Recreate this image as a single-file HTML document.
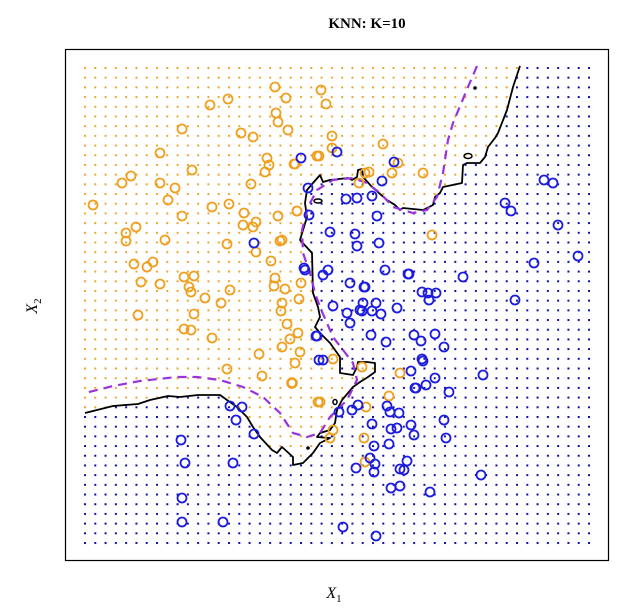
<!DOCTYPE html>
<html><head><meta charset="utf-8"><style>
html,body{margin:0;padding:0;background:#fff;width:640px;height:615px;overflow:hidden}
svg{display:block}
.o{fill:none;stroke:#F0A020;stroke-width:1.8}
.b{fill:none;stroke:#1c1ce0;stroke-width:1.8}
</style></head><body>
<svg width="640" height="615" viewBox="0 0 640 615" xmlns="http://www.w3.org/2000/svg">
<defs>
<pattern id="pb" patternUnits="userSpaceOnUse" x="84" y="67" width="10.286" height="9.694">
<rect width="10.286" height="9.694" fill="#fff"/><rect x="0" y="0" width="2" height="2" fill="#1010a0"/></pattern>
<pattern id="po" patternUnits="userSpaceOnUse" x="84" y="67" width="10.286" height="9.694">
<rect width="10.286" height="9.694" fill="#fff"/><rect x="0" y="0" width="2" height="2" fill="#E8A830"/></pattern>
<clipPath id="gc"><rect x="82" y="64" width="510" height="482"/></clipPath>
</defs>
<rect x="0" y="0" width="640" height="615" fill="#fff"/>
<g clip-path="url(#gc)">
<rect x="80" y="60" width="520" height="490" fill="url(#pb)"/>
<path fill="url(#po)" d="M78,58 L522,58 L520,66 L513,87 L507,110 L498,133 L495,138 L488,147 L485,157 L480,163 L467,163 L463,165 L462,183 L443,187 L440,193 L435,197 L433,205 L423,210 L403,208 L400,210 L395,205 L387,200 L372,187 L363,177 L362,169 L358,170 L357,177 L352,180 L348,178 L330,180 L323,182 L320,175 L313,183 L307,190 L305,203 L307,217 L300,240 L312,253 L313,293 L318,307 L320,317 L315,327 L320,333 L330,343 L340,357 L340,373 L353,375 L357,367 L358,362 L367,362 L375,363 L375,372 L368,377 L360,382 L353,387 L348,393 L342,400 L337,410 L335,423 L330,430 L320,433 L317,437 L330,438 L320,443 L313,453 L303,463 L293,465 L293,457 L282,447 L277,453 L272,450 L260,437 L253,427 L247,417 L237,407 L227,400 L220,395 L198,395 L180,397 L168,396 L150,400 L138,404 L113,406 L85,413 L78,414 Z"/>
</g>
<polyline fill="none" stroke="#000" stroke-width="1.8" stroke-linejoin="round" points="520,66 513,87 507,110 498,133 495,138 488,147 485,157 480,163 467,163 463,165 462,183 443,187 440,193 435,197 433,205 423,210 403,208 400,210 395,205 387,200 372,187 363,177 362,169 358,170 357,177 352,180 348,178 330,180 323,182 320,175 313,183 307,190 305,203 307,217 300,240 312,253 313,293 318,307 320,317 315,327 320,333 330,343 340,357 340,373 353,375 357,367 358,362 367,362 375,363 375,372 368,377 360,382 353,387 348,393 342,400 337,410 335,423 330,430 320,433 317,437 330,438 320,443 313,453 303,463 293,465 293,457 282,447 277,453 272,450 260,437 253,427 247,417 237,407 227,400 220,395 198,395 180,397 168,396 150,400 138,404 113,406 85,413"/>
<ellipse cx="318" cy="201" rx="4" ry="2" fill="none" stroke="#000" stroke-width="1.5"/>
<ellipse cx="468" cy="156" rx="4" ry="2.5" fill="none" stroke="#000" stroke-width="1.5"/>
<ellipse cx="335" cy="402" rx="2" ry="2.5" fill="none" stroke="#000" stroke-width="1.5"/>
<circle cx="475" cy="88" r="1.8" fill="#000"/><circle cx="308" cy="448" r="1.8" fill="#000"/>
<polyline fill="none" stroke="#9933DD" stroke-width="2.2" stroke-dasharray="9,6" points="477,66 468,87 453,123 448,140 443,173 437,197 427,210 413,213 393,207 380,193 367,183 353,178 333,180 317,190 308,207 302,230 303,253 310,273 315,293 320,307 333,337 343,350 353,363 357,380 347,400 330,417 320,433 307,437 293,433 280,413 263,397 243,387 220,380 197,377 177,377 140,381 113,386 85,393"/>
<g class="o">
<circle cx="275" cy="87" r="4.5"/><circle cx="286" cy="98" r="4.5"/><circle cx="210" cy="105" r="4.5"/><circle cx="228" cy="99" r="4.5"/><circle cx="276" cy="113" r="4.5"/><circle cx="278" cy="122" r="4.5"/><circle cx="288" cy="130" r="4.5"/><circle cx="182" cy="129" r="4.5"/><circle cx="241" cy="133" r="4.5"/><circle cx="253" cy="137" r="4.5"/><circle cx="160" cy="153" r="4.5"/><circle cx="267" cy="158" r="4.5"/><circle cx="269" cy="165" r="4.5"/><circle cx="265" cy="172" r="4.5"/><circle cx="295" cy="164" r="4.5"/><circle cx="192" cy="170" r="4.5"/><circle cx="131" cy="176" r="4.5"/><circle cx="122" cy="183" r="4.5"/><circle cx="160" cy="183" r="4.5"/><circle cx="175" cy="188" r="4.5"/><circle cx="251" cy="184" r="4.5"/><circle cx="168" cy="200" r="4.5"/><circle cx="93" cy="205" r="4.5"/><circle cx="212" cy="207" r="4.5"/><circle cx="229" cy="204" r="4.5"/><circle cx="244" cy="213" r="4.5"/><circle cx="278" cy="216" r="4.5"/><circle cx="297" cy="211" r="4.5"/><circle cx="182" cy="216" r="4.5"/><circle cx="243" cy="225" r="4.5"/><circle cx="253" cy="227" r="4.5"/><circle cx="256" cy="222" r="4.5"/><circle cx="136" cy="227" r="4.5"/><circle cx="126" cy="233" r="4.5"/><circle cx="126" cy="241" r="4.5"/><circle cx="165" cy="240" r="4.5"/><circle cx="227" cy="244" r="4.5"/><circle cx="280" cy="241" r="4.5"/><circle cx="256" cy="252" r="4.5"/><circle cx="271" cy="261" r="4.5"/><circle cx="134" cy="264" r="4.5"/><circle cx="153" cy="262" r="4.5"/><circle cx="147" cy="267" r="4.5"/><circle cx="317" cy="156" r="4.5"/>
<circle cx="141" cy="282" r="4.5"/><circle cx="160" cy="284" r="4.5"/><circle cx="184" cy="277" r="4.5"/><circle cx="194" cy="276" r="4.5"/><circle cx="189" cy="287" r="4.5"/><circle cx="191" cy="292" r="4.5"/><circle cx="205" cy="298" r="4.5"/><circle cx="230" cy="290" r="4.5"/><circle cx="221" cy="303" r="4.5"/><circle cx="138" cy="315" r="4.5"/><circle cx="194" cy="314" r="4.5"/><circle cx="184" cy="329" r="4.5"/><circle cx="191" cy="330" r="4.5"/><circle cx="212" cy="338" r="4.5"/><circle cx="275" cy="278" r="4.5"/><circle cx="274" cy="286" r="4.5"/><circle cx="285" cy="289" r="4.5"/><circle cx="301" cy="283" r="4.5"/><circle cx="299" cy="299" r="4.5"/><circle cx="282" cy="303" r="4.5"/><circle cx="281" cy="311" r="4.5"/><circle cx="287" cy="324" r="4.5"/><circle cx="298" cy="333" r="4.5"/><circle cx="290" cy="339" r="4.5"/><circle cx="282" cy="347" r="4.5"/><circle cx="300" cy="352" r="4.5"/><circle cx="295" cy="363" r="4.5"/><circle cx="259" cy="354" r="4.5"/><circle cx="227" cy="369" r="4.5"/><circle cx="262" cy="376" r="4.5"/><circle cx="292" cy="383" r="4.5" style="stroke-width:2.6"/><circle cx="318" cy="402" r="4.5"/>
<circle cx="332" cy="148" r="4.5"/><circle cx="319" cy="156" r="4.5"/><circle cx="294" cy="164" r="4.5"/><circle cx="398" cy="163" r="4.5"/><circle cx="392" cy="173" r="4.5"/><circle cx="423" cy="173" r="4.5"/><circle cx="369" cy="172" r="4.5"/><circle cx="365" cy="173" r="4.5"/><circle cx="359" cy="183" r="4.5"/><circle cx="383" cy="144" r="4.5"/><circle cx="297" cy="211" r="4.5"/><circle cx="432" cy="235" r="4.5"/><circle cx="282" cy="240" r="4.5"/><circle cx="321" cy="90" r="4.5"/><circle cx="326" cy="104" r="4.5"/><circle cx="332" cy="136" r="4.5"/>
<circle cx="333" cy="359" r="4.5"/><circle cx="320" cy="402" r="4.5"/><circle cx="362" cy="367" r="4.5"/><circle cx="400" cy="373" r="4.5"/><circle cx="389" cy="396" r="4.5"/><circle cx="366" cy="407" r="4.5"/><circle cx="333" cy="430" r="4.5"/><circle cx="330" cy="438" r="4.5"/><circle cx="364" cy="438" r="4.5"/><circle cx="365" cy="462" r="4.5"/>
</g>
<g class="b">
<circle cx="301" cy="158" r="4.5"/><circle cx="308" cy="188" r="4.5"/><circle cx="309" cy="215" r="4.5"/><circle cx="254" cy="243" r="4.5"/><circle cx="304" cy="268" r="4.5"/><circle cx="316" cy="336" r="4.5"/><circle cx="319" cy="360" r="4.5"/><circle cx="230" cy="406" r="4.5"/><circle cx="242" cy="407" r="4.5"/><circle cx="236" cy="420" r="4.5"/><circle cx="254" cy="434" r="4.5"/><circle cx="181" cy="440" r="4.5"/><circle cx="185" cy="463" r="4.5"/><circle cx="233" cy="463" r="4.5"/><circle cx="182" cy="498" r="4.5"/><circle cx="182" cy="522" r="4.5"/><circle cx="223" cy="522" r="4.5"/>
<circle cx="337" cy="152" r="4.5"/><circle cx="394" cy="162" r="4.5"/><circle cx="382" cy="181" r="4.5"/><circle cx="346" cy="199" r="4.5"/><circle cx="357" cy="198" r="4.5"/><circle cx="372" cy="196" r="4.5"/><circle cx="377" cy="216" r="4.5"/><circle cx="330" cy="232" r="4.5"/><circle cx="355" cy="234" r="4.5"/><circle cx="357" cy="246" r="4.5"/><circle cx="379" cy="243" r="4.5"/><circle cx="305" cy="270" r="4.5"/><circle cx="328" cy="270" r="4.5"/><circle cx="323" cy="275" r="4.5"/><circle cx="350" cy="283" r="4.5"/><circle cx="364" cy="287" r="4.5"/><circle cx="385" cy="270" r="4.5"/><circle cx="408" cy="274" r="4.5"/><circle cx="463" cy="277" r="4.5"/><circle cx="422" cy="292" r="4.5"/><circle cx="428" cy="293" r="4.5"/><circle cx="436" cy="293" r="4.5"/>
<circle cx="544" cy="180" r="4.5"/><circle cx="553" cy="183" r="4.5"/><circle cx="505" cy="203" r="4.5"/><circle cx="511" cy="211" r="4.5"/><circle cx="558" cy="225" r="4.5"/><circle cx="578" cy="256" r="4.5"/><circle cx="534" cy="263" r="4.5"/><circle cx="409" cy="274" r="4.5"/><circle cx="365" cy="287" r="4.5"/><circle cx="429" cy="300" r="4.5"/><circle cx="515" cy="300" r="4.5"/><circle cx="376" cy="303" r="4.5"/><circle cx="363" cy="303" r="4.5"/><circle cx="372" cy="311" r="4.5"/><circle cx="381" cy="314" r="4.5"/><circle cx="397" cy="308" r="4.5"/><circle cx="362" cy="311" r="4.5"/><circle cx="371" cy="335" r="4.5"/><circle cx="386" cy="342" r="4.5"/><circle cx="414" cy="335" r="4.5"/><circle cx="421" cy="341" r="4.5"/><circle cx="435" cy="334" r="4.5"/><circle cx="444" cy="347" r="4.5"/><circle cx="422" cy="359" r="4.5"/><circle cx="411" cy="371" r="4.5"/><circle cx="435" cy="378" r="4.5"/><circle cx="483" cy="375" r="4.5"/>
<circle cx="333" cy="306" r="4.5"/><circle cx="347" cy="313" r="4.5"/><circle cx="350" cy="323" r="4.5"/><circle cx="317" cy="336" r="4.5"/><circle cx="360" cy="310" r="4.5"/><circle cx="323" cy="360" r="4.5"/><circle cx="415" cy="388" r="4.5"/>
<circle cx="423" cy="361" r="4.5"/><circle cx="426" cy="385" r="4.5"/><circle cx="416" cy="388" r="4.5"/><circle cx="449" cy="392" r="4.5"/><circle cx="358" cy="405" r="4.5"/><circle cx="352" cy="410" r="4.5"/><circle cx="339" cy="412" r="4.5"/><circle cx="387" cy="406" r="4.5"/><circle cx="390" cy="412" r="4.5"/><circle cx="399" cy="413" r="4.5"/><circle cx="372" cy="424" r="4.5"/><circle cx="391" cy="429" r="4.5"/><circle cx="397" cy="428" r="4.5"/><circle cx="411" cy="425" r="4.5"/><circle cx="414" cy="435" r="4.5"/><circle cx="444" cy="420" r="4.5"/><circle cx="446" cy="438" r="4.5"/><circle cx="374" cy="446" r="4.5"/><circle cx="389" cy="444" r="4.5"/><circle cx="370" cy="458" r="4.5"/><circle cx="375" cy="464" r="4.5"/><circle cx="374" cy="472" r="4.5"/><circle cx="356" cy="468" r="4.5"/><circle cx="407" cy="461" r="4.5"/><circle cx="400" cy="469" r="4.5"/><circle cx="404" cy="470" r="4.5"/><circle cx="391" cy="488" r="4.5"/><circle cx="400" cy="486" r="4.5"/><circle cx="430" cy="492" r="4.5"/><circle cx="481" cy="475" r="4.5"/><circle cx="343" cy="527" r="4.5"/><circle cx="376" cy="536" r="4.5"/>
</g>
<rect x="65.5" y="49.5" width="543" height="511" fill="none" stroke="#000" stroke-width="1.2"/>
<text x="367" y="28" text-anchor="middle" font-family="Liberation Serif, serif" font-weight="bold" font-size="15">KNN: K=10</text>
<text x="334" y="598" text-anchor="middle" font-family="Liberation Serif, serif" font-style="italic" font-size="16">X<tspan font-size="11" dy="4" font-style="normal">1</tspan></text>
<text transform="translate(37,306) rotate(-90)" text-anchor="middle" font-family="Liberation Serif, serif" font-style="italic" font-size="16">X<tspan font-size="11" dy="4" font-style="normal">2</tspan></text>
</svg>
</body></html>
